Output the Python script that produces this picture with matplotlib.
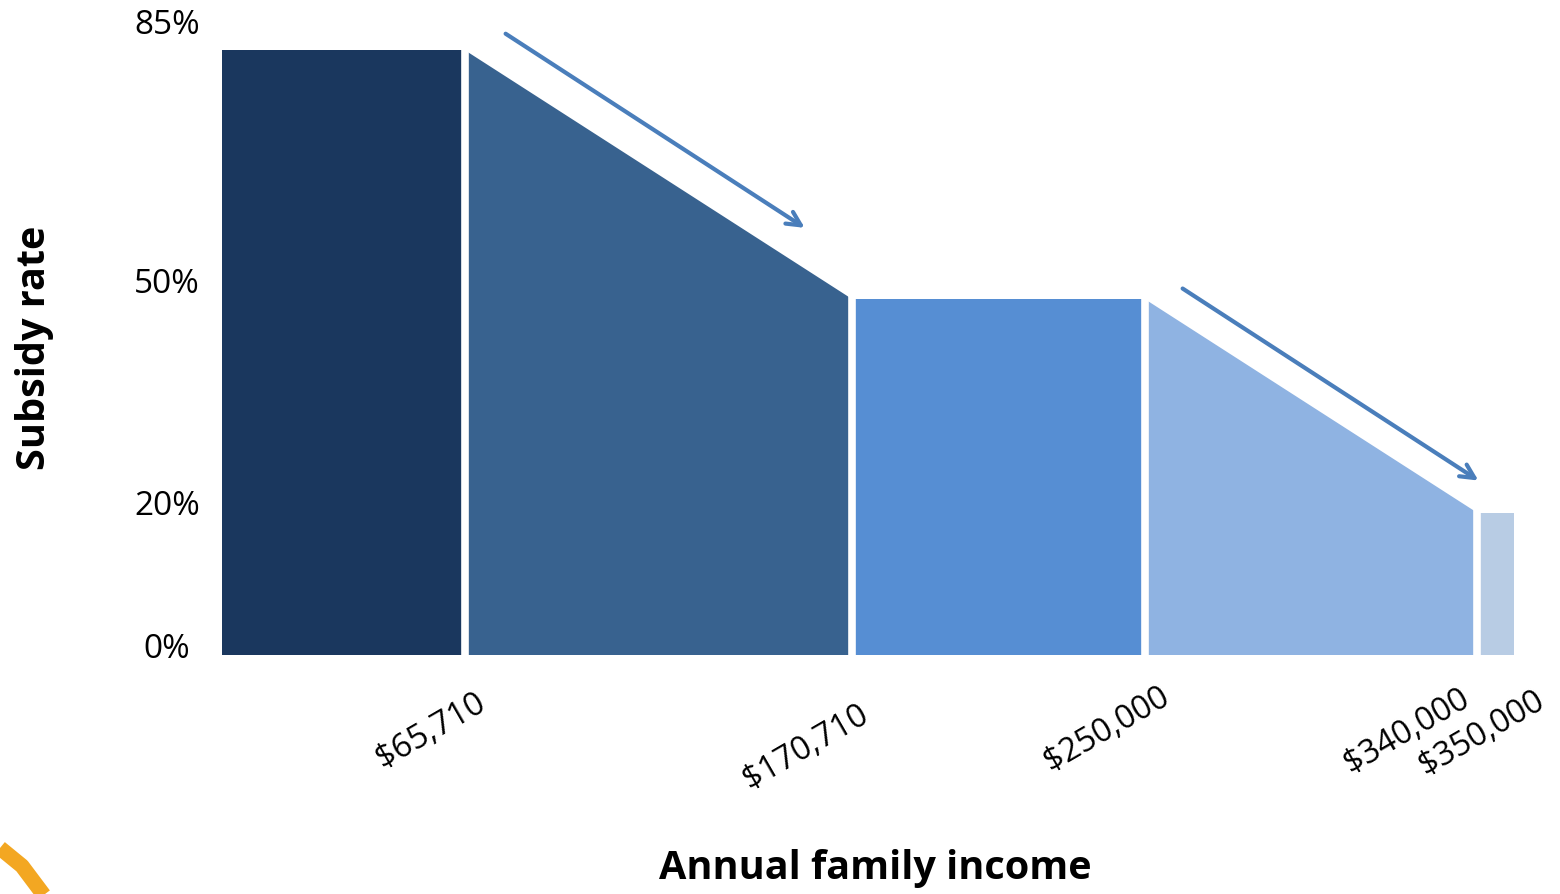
import matplotlib.pyplot as plt
from matplotlib.patches import Polygon
from matplotlib.lines import Line2D

plt.rcParams['font.family'] = ['Open Sans', 'DejaVu Sans']

# income brackets (thousands of $) and subsidy rate (%) at each edge
edges = [0, 65.71, 170.71, 250, 340, 350]
rate_start = [85, 85, 50, 50, 20]
rate_end = [85, 50, 50, 20, 20]
colors = ['#1A375E', '#38628F', '#568ED3', '#8FB3E2', '#B8CCE4']
tick_labels = ['$65,710', '$170,710', '$250,000', '$340,000', '$350,000']
ytick_vals = [0, 20, 50, 85]
ytick_labels = ['0%', '20%', '50%', '85%']

fig = plt.figure(figsize=(15.6, 8.94), dpi=100)
W, H = 1560, 894
ax = fig.add_axes([222 / W, 1 - 655 / H, (1514 - 222) / W, (655 - 50) / H])
ax.set_xlim(0, 350)
ax.set_ylim(0, 85)
ax.axis('off')

for i in range(5):
    x0, x1 = edges[i], edges[i + 1]
    poly = Polygon([(x0, 0), (x0, rate_start[i]), (x1, rate_end[i]), (x1, 0)],
                   closed=True, facecolor=colors[i], edgecolor='none')
    ax.add_patch(poly)

# white gaps between the blocks
for x in edges[1:-1]:
    ax.axvline(x, color='white', lw=5.5, zorder=3)

# y tick labels (sit a little above their level)
lab_off = {0: 6, 20: 6, 50: 15, 85: 25}
for v, t in zip(ytick_vals, ytick_labels):
    ax.annotate(t, xy=(0, v), xytext=(-55, lab_off[v]), textcoords='offset pixels',
                ha='center', va='center', fontsize=24, annotation_clip=False)

# x tick labels, rotated
dx = [18, 14, 22, -10, 28]
dy = [-46, -58, -40, -42, -44]
for x, t, ox, oy in zip(edges[1:], tick_labels, dx, dy):
    ax.annotate(t, xy=(x, 0), xytext=(ox, oy), textcoords='offset pixels',
                ha='right', va='center', rotation=30, rotation_mode='anchor',
                fontsize=23.5, annotation_clip=False)

# arrows parallel to the sloping parts
arrow_kw = dict(arrowstyle='->,head_length=1.0,head_width=0.5', color='#4A7EBB', lw=3)
ax.annotate('', xy=(158.5, 59.8), xytext=(76.2, 87.5),
            arrowprops=arrow_kw, annotation_clip=False)
ax.annotate('', xy=(341, 24.3), xytext=(259.6, 51.7),
            arrowprops=arrow_kw, annotation_clip=False)

fig.text(35 / W, 1 - 348 / H, 'Subsidy rate', rotation=90, ha='center', va='center',
         fontsize=28.5, fontweight='bold')
fig.text(875 / W, 1 - 868 / H, 'Annual family income', ha='center', va='center',
         fontsize=28.5, fontweight='bold')

# bit of orange logo in the corner
fig.add_artist(Line2D([0 / W, 22 / W, 46 / W], [1 - 848 / H, 1 - 866 / H, 1 - 898 / H],
                      color='#F3A722', lw=11, solid_capstyle='butt'))

fig.savefig('out.png', dpi=100)
